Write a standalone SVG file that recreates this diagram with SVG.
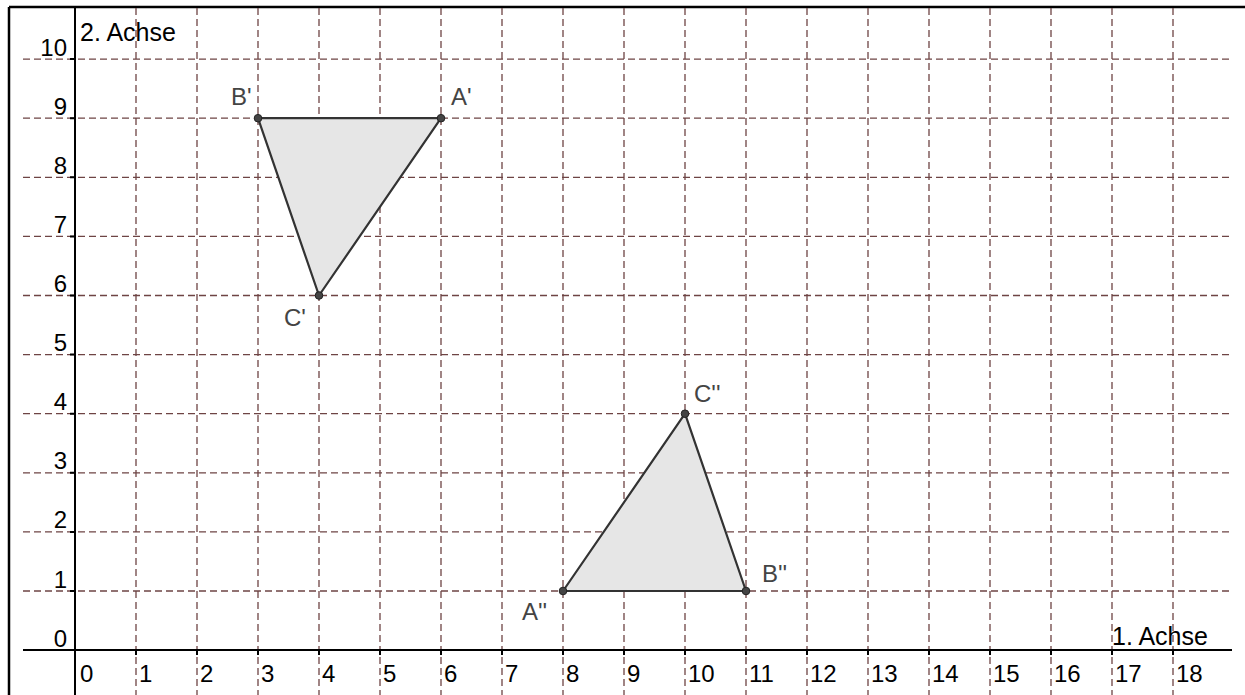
<svg xmlns="http://www.w3.org/2000/svg" width="1245" height="695" viewBox="0 0 1245 695">
<style>
.grid{stroke:#6e4444;stroke-width:1.3;stroke-dasharray:7 4;fill:none}
.axis{stroke:#000;stroke-width:2;fill:none}
.tick{stroke:#000;stroke-width:2}
.num{font-family:"Liberation Sans",Arial,sans-serif;font-size:24px;fill:#000}
.ax{font-family:"Liberation Sans",Arial,sans-serif;font-size:25px;fill:#000}
.lbl{font-family:"Liberation Sans",Arial,sans-serif;font-size:24px;fill:#444}
.tri{fill:#e6e6e6;stroke:#333;stroke-width:2.2;stroke-linejoin:round}
.pt{fill:#444;stroke:#222;stroke-width:1}
</style>
<rect x="0" y="0" width="1245" height="695" fill="#fff"/>
<g id="border" stroke="#000" stroke-width="2.5">
<line x1="9" y1="7" x2="1245" y2="7"/>
<line x1="9" y1="7" x2="9" y2="695"/>
</g>
<g id="grid" class="grid">
<path d="M23 59.1H1231M23 118.2H1231M23 177.3H1231M23 236.4H1231M23 295.5H1231M23 354.6H1231M23 413.7H1231M23 472.8H1231M23 531.9H1231M23 591H1231"/>
<path d="M136 8V695M197 8V695M258 8V695M319 8V695M380 8V695M441 8V695M502 8V695M563 8V695M624 8V695M685 8V695M746 8V695M807 8V695M868 8V695M929 8V695M990 8V695M1051 8V695M1112 8V695M1173 8V695"/>
</g>
<g id="axes">
<line class="axis" x1="23" y1="650" x2="1232" y2="650"/>
<line class="axis" x1="75" y1="8" x2="75" y2="695"/>
<path class="tick" d="M136 650v5M197 650v5M258 650v5M319 650v5M380 650v5M441 650v5M502 650v5M563 650v5M624 650v5M685 650v5M746 650v5M807 650v5M868 650v5M929 650v5M990 650v5M1051 650v5M1112 650v5M1173 650v5"/>
<path class="tick" d="M70 59.1h5M70 118.2h5M70 177.3h5M70 236.4h5M70 295.5h5M70 354.6h5M70 413.7h5M70 472.8h5M70 531.9h5M70 591h5"/>
<text class="ax" x="80" y="41">2. Achse</text>
<text class="ax" x="1112" y="645">1. Achse</text>
</g>
<g id="ylabels" class="num" text-anchor="end">
<text x="67" y="56">10</text>
<text x="67" y="115">9</text>
<text x="67" y="174">8</text>
<text x="67" y="233">7</text>
<text x="67" y="292">6</text>
<text x="67" y="351">5</text>
<text x="67" y="410">4</text>
<text x="67" y="469">3</text>
<text x="67" y="528">2</text>
<text x="67" y="588">1</text>
<text x="67" y="647">0</text>
</g>
<g id="xlabels" class="num">
<text x="80" y="682">0</text>
<text x="139" y="682">1</text>
<text x="200" y="682">2</text>
<text x="261" y="682">3</text>
<text x="322" y="682">4</text>
<text x="383" y="682">5</text>
<text x="444" y="682">6</text>
<text x="505" y="682">7</text>
<text x="566" y="682">8</text>
<text x="627" y="682">9</text>
<text x="688" y="682">10</text>
<text x="749" y="682">11</text>
<text x="810" y="682">12</text>
<text x="871" y="682">13</text>
<text x="932" y="682">14</text>
<text x="993" y="682">15</text>
<text x="1054" y="682">16</text>
<text x="1115" y="682">17</text>
<text x="1176" y="682">18</text>
</g>
<g id="triangle1">
<polygon class="tri" points="441,118.2 258,118.2 319,295.5"/>
</g>
<g id="triangle2">
<polygon class="tri" points="563,591 746,591 685,413.7"/>
</g>
<g id="pointA1"><circle class="pt" cx="441" cy="118.2" r="3.8"/><text class="lbl" x="451" y="105">A'</text></g>
<g id="pointB1"><circle class="pt" cx="258" cy="118.2" r="3.8"/><text class="lbl" x="231" y="105">B'</text></g>
<g id="pointC1"><circle class="pt" cx="319" cy="295.5" r="3.8"/><text class="lbl" x="284" y="326">C'</text></g>
<g id="pointA2"><circle class="pt" cx="563" cy="591" r="3.8"/><text class="lbl" x="522" y="620">A''</text></g>
<g id="pointB2"><circle class="pt" cx="746" cy="591" r="3.8"/><text class="lbl" x="762" y="582">B''</text></g>
<g id="pointC2"><circle class="pt" cx="685" cy="413.7" r="3.8"/><text class="lbl" x="694" y="402">C''</text></g>
</svg>
